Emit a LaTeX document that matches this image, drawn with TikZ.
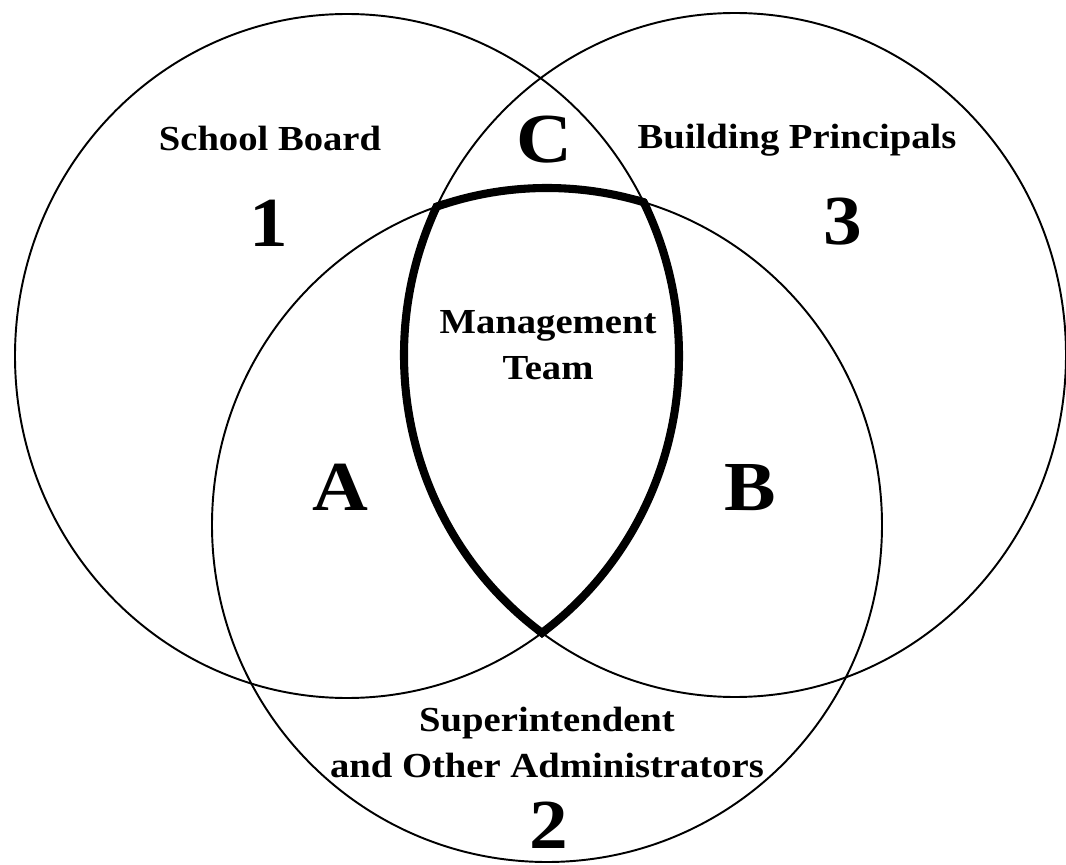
\documentclass[tikz,border=0pt]{standalone}
\usepackage{fontspec}
\setmainfont{Liberation Serif}[FakeStretch=1.1]
\usepackage{tikz}

\begin{document}
\begin{tikzpicture}[x=0.02cm, y=-0.02cm]
\tikzset{
    ring/.style={
                   draw, line width=1.1pt
    },
    lensLine/.style={
                   draw, line width=4.6pt
    },
    groupLabel/.style={
                   inner sep=0pt, align=center,
                   font=\fontsize{20}{26}\selectfont\bfseries
    },
    bigLetter/.style={
                   inner sep=0pt, anchor=base,
                   font=\fontsize{40}{48}\selectfont\bfseries
    }
}
    \useasboundingbox (0,0) rectangle (1066,865);

    % the three groups
    \draw[ring] (347,356) ellipse [x radius=332, y radius=342];
    \draw[ring] (735,355) ellipse [x radius=331, y radius=342];
    \draw[ring] (547,525) ellipse [x radius=335, y radius=337];

    % management team, inside all three
    \begin{scope}
        \clip (347,356) ellipse [x radius=336, y radius=346];
        \clip (735,355) ellipse [x radius=335, y radius=346];
        \draw[lensLine] (547,525) ellipse [x radius=335, y radius=337];
    \end{scope}
    \begin{scope}
        \clip (347,356) ellipse [x radius=336, y radius=346];
        \clip (547,525) ellipse [x radius=339, y radius=341];
        \draw[lensLine] (735,355) ellipse [x radius=331, y radius=342];
    \end{scope}
    \begin{scope}
        \clip (735,355) ellipse [x radius=335, y radius=346];
        \clip (547,525) ellipse [x radius=339, y radius=341];
        \draw[lensLine] (347,356) ellipse [x radius=332, y radius=342];
    \end{scope}

    \node (board)[groupLabel, anchor=base] at (270,151) {School Board};
    \node (principals)[groupLabel, anchor=base] at (797,149) {Building Principals};
    \node (team)[groupLabel, anchor=north] at (548,310) {Management\\Team};
    \node (supt)[groupLabel, anchor=north] at (547,707) {Superintendent\\and Other Administrators};

    \node (one)[bigLetter] at (269,247) {1};
    \node (three)[bigLetter] at (843,245) {3};
    \node (two)[bigLetter] at (549,848) {2};
    \node (C)[bigLetter] at (544,163) {C};
    \node (A)[bigLetter] at (340,510) {A};
    \node (B)[bigLetter] at (750,510) {B};

\end{tikzpicture}
\end{document}
